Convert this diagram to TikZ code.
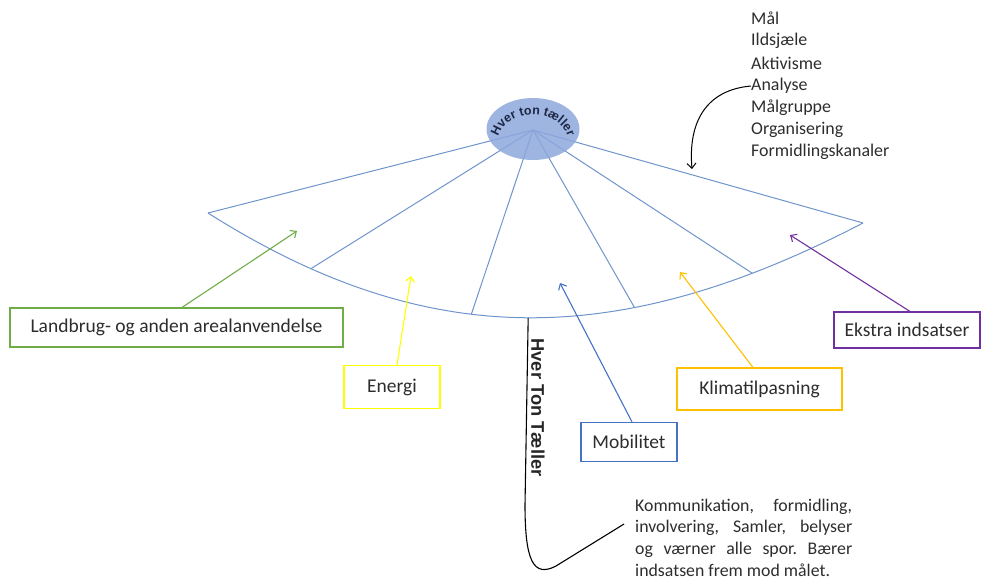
\documentclass[tikz,border=0pt]{standalone}
\usepackage{fontspec}
\setmainfont{Carlito}
\newfontfamily\arialfont{Liberation Sans}
\usetikzlibrary{arrows.meta,decorations.text,shapes.geometric,calc}
\definecolor{fanblue}{RGB}{110,148,204}
\definecolor{hubblue}{RGB}{141,167,220}
\definecolor{hubtext}{RGB}{30,40,70}
\definecolor{cgreen}{RGB}{112,173,71}
\definecolor{cyellow}{RGB}{255,255,0}
\definecolor{cblue}{RGB}{68,114,196}
\definecolor{cgold}{RGB}{255,192,0}
\definecolor{cpurple}{RGB}{112,48,160}
\definecolor{txt}{RGB}{45,45,45}
\newcommand{\boxfont}{\fontsize{19.5}{21}\selectfont}
\newcommand{\listfont}{\fontsize{17.9}{20}\selectfont}
\frenchspacing
\begin{document}
\begin{tikzpicture}[x=1pt,y=-1pt,
  fanline/.style={draw=fanblue, line width=1pt},
  catbox/.style={draw, line width=1.1pt, fill=white, inner sep=0pt, font=\boxfont, text=txt},
  catarrow/.style={line width=1.1pt, -{Straight Barb[length=5pt,width=9pt]}},
  listitem/.style={anchor=west, inner sep=0pt, font=\listfont, text=txt},
  blackarrow/.style={draw=black, line width=1pt, -{Straight Barb[length=5pt,width=9pt]}}]
\useasboundingbox (0,0) rectangle (984,581);

% fan
\coordinate (hc) at (533,130);
\coordinate (lc) at (208,213);
\coordinate (rc) at (863,223);
\draw[fanline] (lc) .. controls (426,351) and (617,351) ..
  coordinate[pos=0.16] (r1) coordinate[pos=0.415] (r2) coordinate[pos=0.505] (bot)
  coordinate[pos=0.67] (r3) coordinate[pos=0.845] (r4) (rc);
\foreach \p in {lc,r1,r2,r3,r4,rc} \draw[fanline] (hc) -- (\p);

% hub
\node (hub) [ellipse, fill=hubblue, fill opacity=0.85, minimum width=93, minimum height=62, inner sep=0pt] at (533,129) {};
\path[decorate, decoration={text along path, text align=center,
  text={|\arialfont\bfseries\fontsize{12.5}{12.5}\selectfont\color{hubtext}|Hver ton tæller}}]
  (497,150) .. controls (493,103) and (573,103) .. (569,150);

% list
\node (l1) [listitem] at (751,18) {Mål};
\node (l2) [listitem] at (751,41) {Ildsjæle};
\node (l3) [listitem] at (751,63) {Aktivisme};
\node (l4) [listitem] at (751,86) {Analyse};
\node (l5) [listitem] at (751,108) {Målgruppe};
\node (l6) [listitem] at (751,130) {Organisering};
\node (l7) [listitem] at (751,152) {Formidlingskanaler};
\coordinate (atip) at (692,169);
\draw[blackarrow] (l4.west) .. controls (706,90) and (688,122) .. (atip);

% category boxes
\node (land) [catbox, draw=cgreen, minimum width=333, minimum height=39] at (176.5,327.5) {Landbrug- og anden arealanvendelse};
\node (energi) [catbox, draw=cyellow, minimum width=96, minimum height=43] at (392,387) {Energi};
\node (mob) [catbox, draw=cblue, minimum width=96, minimum height=39] at (629,442) {Mobilitet};
\node (klima) [catbox, draw=cgold, minimum width=165, minimum height=42] at (759.5,389) {Klimatilpasning};
\node (ekstra) [catbox, draw=cpurple, minimum width=146, minimum height=36] at (907,330) {Ekstra indsatser};

\coordinate (tland) at (297,231);
\coordinate (tenergi) at (411,276);
\coordinate (tmob) at (560,283);
\coordinate (tklima) at (680,272);
\coordinate (tekstra) at (790,235);
\draw[catarrow, draw=cgreen] ([xshift=5.5pt]land.north) -- (tland);
\draw[catarrow, draw=cyellow] ([xshift=5pt]energi.north) -- (tenergi);
\draw[catarrow, draw=cblue] ([xshift=3pt]mob.north) -- (tmob);
\draw[catarrow, draw=cgold] ([xshift=-6.5pt]klima.north) -- (tklima);
\draw[catarrow, draw=cpurple] ([xshift=3pt]ekstra.north) -- (tekstra);

% bracket
\coordinate (bend) at (624,524);
\draw[black, line width=1.1pt] (bot) -- (525,505) .. controls (525,560) and (533,578) .. (556,566) -- (bend);
\node (vt) [rotate=-90, inner sep=0pt, font=\arialfont\bfseries\fontsize{18.3}{19}\selectfont, text=black!85] at (538,407.5) {Hver Ton Tæller};

% description
\node (desc) [anchor=north west, inner sep=0pt, text width=217, align=justify, font=\fontsize{17.8}{21.8}\selectfont, text=txt] at (635,498.5)
  {\hyphenpenalty=10000\hbadness=10000 Kommunikation, formidling,\linebreak involvering, Samler, belyser\linebreak og værner alle spor. Bærer\linebreak indsatsen frem mod målet.};
\end{tikzpicture}
\end{document}
